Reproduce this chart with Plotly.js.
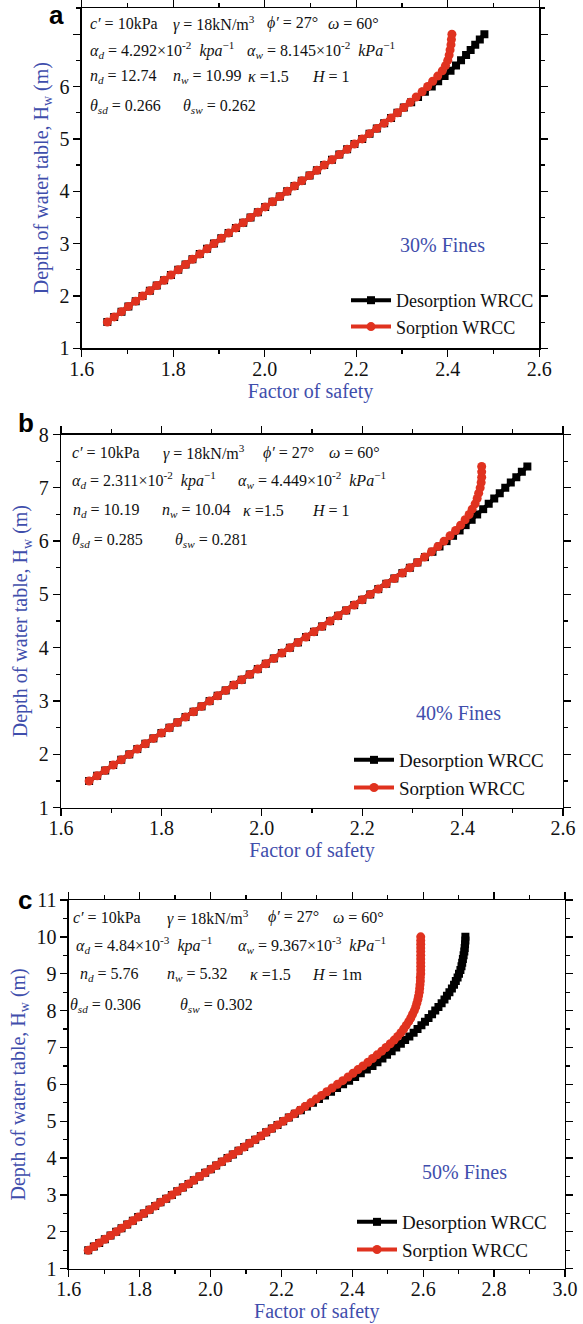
<!DOCTYPE html>
<html>
<head>
<meta charset="utf-8">
<script src="https://cdn.plot.ly/plotly-3.0.1.min.js"></script>
<style>html,body{margin:0;padding:0;background:#fff;}#chart{width:583px;height:1324px;}</style>
</head>
<body>
<div id="chart"></div>
<script>
// ---------- data ----------
// Panel a : 30% fines
const depthA = [1.5,1.6,1.7,1.8,1.9,2.0,2.1,2.2,2.3,2.4,2.5,2.6,2.7,2.8,2.9,3.0,3.1,3.2,3.3,3.4,3.5,3.6,3.7,3.8,3.9,4.0,4.1,4.2,4.3,4.4,4.5,4.6,4.7,4.8,4.9,5.0,5.1,5.2,5.3,5.4,5.5,5.6,5.7,5.8,5.9,6.0,6.1,6.2,6.3,6.4,6.5,6.6,6.7,6.8,6.9,7.0];
const fosA_common = [1.656,1.671,1.687,1.702,1.718,1.733,1.749,1.764,1.780,1.795,1.811,1.827,1.842,1.858,1.874,1.889,1.905,1.921,1.937,1.953,1.969,1.985,2.001,2.017,2.033,2.049,2.065,2.081,2.098,2.114,2.130,2.147,2.163,2.180,2.196,2.213,2.229,2.245,2.261,2.276,2.290,2.304];
const fosA_desTail = [2.320,2.335,2.350,2.365,2.379,2.393,2.406,2.418,2.429,2.440,2.450,2.460,2.470,2.480];
const fosA_sorTail = [2.318,2.331,2.344,2.356,2.367,2.378,2.388,2.395,2.400,2.403,2.405,2.407,2.408,2.409];

// Panel b : 40% fines
const depthB = [1.5,1.6,1.7,1.8,1.9,2.0,2.1,2.2,2.3,2.4,2.5,2.6,2.7,2.8,2.9,3.0,3.1,3.2,3.3,3.4,3.5,3.6,3.7,3.8,3.9,4.0,4.1,4.2,4.3,4.4,4.5,4.6,4.7,4.8,4.9,5.0,5.1,5.2,5.3,5.4,5.5,5.6,5.7,5.8,5.9,6.0,6.1,6.2,6.3,6.4,6.5,6.6,6.7,6.8,6.9,7.0,7.1,7.2,7.3,7.4];
const fosB_common = [1.656,1.672,1.688,1.704,1.720,1.736,1.752,1.768,1.784,1.800,1.816,1.832,1.848,1.864,1.880,1.896,1.912,1.928,1.944,1.960,1.976,1.992,2.008,2.024,2.040,2.056,2.072,2.088,2.104,2.120,2.136,2.152,2.168,2.184,2.200,2.216,2.232,2.248,2.264,2.280,2.295,2.310];
const fosB_desTail = [2.325,2.340,2.354,2.368,2.381,2.394,2.406,2.418,2.429,2.441,2.452,2.463,2.474,2.485,2.496,2.507,2.518,2.529];
const fosB_sorTail = [2.324,2.338,2.351,2.363,2.375,2.386,2.396,2.405,2.413,2.419,2.425,2.429,2.432,2.435,2.437,2.438,2.438,2.438];

// Panel c : 50% fines
const depthC = [1.5,1.6,1.7,1.8,1.9,2.0,2.1,2.2,2.3,2.4,2.5,2.6,2.7,2.8,2.9,3.0,3.1,3.2,3.3,3.4,3.5,3.6,3.7,3.8,3.9,4.0,4.1,4.2,4.3,4.4,4.5,4.6,4.7,4.8,4.9,5.0,5.1,5.2,5.3,5.4,5.5,5.6,5.7,5.8,5.9,6.0,6.1,6.2,6.3,6.4,6.5,6.6,6.7,6.8,6.9,7.0,7.1,7.2,7.3,7.4,7.5,7.6,7.7,7.8,7.9,8.0,8.1,8.2,8.3,8.4,8.5,8.6,8.7,8.8,8.9,9.0,9.1,9.2,9.3,9.4,9.5,9.6,9.7,9.8,9.9,10.0];
const fosC_common = [1.655,1.671,1.686,1.702,1.718,1.734,1.749,1.765,1.781,1.796,1.812,1.828,1.844,1.859,1.875,1.891,1.906,1.922,1.938,1.953,1.969,1.985,2.001,2.016,2.032,2.048,2.063,2.079,2.095,2.110,2.126,2.142,2.157,2.173,2.189,2.205];
const fosC_desTail = [2.221,2.238,2.255,2.272,2.289,2.306,2.323,2.340,2.357,2.374,2.391,2.408,2.424,2.441,2.457,2.471,2.485,2.498,2.511,2.524,2.537,2.549,2.561,2.573,2.584,2.595,2.605,2.615,2.625,2.634,2.643,2.652,2.660,2.667,2.674,2.681,2.687,2.692,2.697,2.701,2.705,2.708,2.710,2.712,2.714,2.716,2.717,2.718,2.719,2.719];
const fosC_sorTail = [2.221,2.236,2.252,2.267,2.283,2.298,2.313,2.328,2.343,2.358,2.373,2.388,2.402,2.416,2.430,2.444,2.457,2.470,2.483,2.495,2.507,2.518,2.528,2.537,2.545,2.552,2.559,2.565,2.570,2.575,2.579,2.582,2.585,2.587,2.589,2.590,2.591,2.592,2.592,2.593,2.593,2.593,2.593,2.593,2.593,2.593,2.593,2.593,2.593,2.593];

const seriesNames = ["Desorption WRCC", "Sorption WRCC"];
const finesLabels = ["30% Fines", "40% Fines", "50% Fines"];
const panelLetters = ["a", "b", "c"];
const yTickVals = [[1,2,3,4,5,6,7],[1,2,3,4,5,6,7,8],[1,2,3,4,5,6,7,8,9,10,11]];
const yTickText = [["1","2","3","4","5","6",""],["1","2","3","4","5","6","7","8"],["1","2","3","4","5","6","7","8","9","10","11"]];

// ---------- helpers ----------
const W = 583, H = 1324;
const px = v => v / W;
const py = v => 1 - v / H;
const BLUE = "rgb(63,78,172)";
const RED = "#e0321f";
const SERIF = "Liberation Serif, Times New Roman, serif";

function traces(xs, des, sor, ax, leg) {
  return [
    {x: des, y: xs, xaxis: "x" + ax, yaxis: "y" + ax, legend: leg, name: seriesNames[0],
     mode: "lines+markers", line: {color: "#000", width: 4},
     marker: {symbol: "square", size: 8, color: "#000"}},
    {x: sor, y: xs, xaxis: "x" + ax, yaxis: "y" + ax, legend: leg, name: seriesNames[1],
     mode: "lines+markers", line: {color: RED, width: 4},
     marker: {symbol: "circle", size: 9, color: RED}}
  ];
}

const data = [].concat(
  traces(depthA, fosA_common.concat(fosA_desTail), fosA_common.concat(fosA_sorTail), "", "legend"),
  traces(depthB, fosB_common.concat(fosB_desTail), fosB_common.concat(fosB_sorTail), "2", "legend2"),
  traces(depthC, fosC_common.concat(fosC_desTail), fosC_common.concat(fosC_sorTail), "3", "legend3")
);

function xAx(domPx, range, anchor) {
  return {
    domain: [px(domPx[0]), px(domPx[1])], anchor: anchor, range: range,
    tick0: 1.6, dtick: 0.2, tickformat: ".1f",
    showline: true, linecolor: "#000", linewidth: 1.3, mirror: "allticks",
    ticks: "outside", ticklen: 7, tickwidth: 1.3, tickcolor: "#000", ticklabelstandoff: -5,
    minor: {dtick: 0.1, ticklen: 4, tickwidth: 1.2, tickcolor: "#000", ticks: "outside"},
    showgrid: false, zeroline: false,
    tickfont: {family: SERIF, size: 20, color: "#111"},
    title: {text: "Factor of safety", font: {family: SERIF, size: 20, color: BLUE}, standoff: 2}
  };
}
function yAx(domPx, range, anchor, i) {
  return {
    domain: [py(domPx[1]), py(domPx[0])], anchor: anchor, range: range,
    tickmode: "array", tickvals: yTickVals[i], ticktext: yTickText[i],
    showline: true, linecolor: "#000", linewidth: 1.3, mirror: "allticks",
    ticks: "outside", ticklen: 7, tickwidth: 1.3, tickcolor: "#000",
    minor: {dtick: 0.5, tick0: 1, ticklen: 4, tickwidth: 1.2, tickcolor: "#000", ticks: "outside"},
    showgrid: false, zeroline: false,
    tickfont: {family: SERIF, size: 20, color: "#111"},
    title: {text: "Depth of water table, H<sub>w</sub> (m)", font: {family: SERIF, size: 20, color: BLUE}, standoff: 5}
  };
}
function legendAt(xPx, yPx, fs) {
  return {x: px(xPx), y: py(yPx), xanchor: "left", yanchor: "top", bgcolor: "rgba(0,0,0,0)",
          font: {family: SERIF, size: fs, color: "#111"}, tracegroupgap: 0, itemwidth: 40};
}

const annotations = [];
function note(xPx, yPx, text) {
  annotations.push({xref: "paper", yref: "paper", x: px(xPx), y: py(yPx),
    xanchor: "left", yanchor: "middle", showarrow: false, text: text, borderpad: 0,
    font: {family: SERIF, size: 16, color: "#111"}});
}

// panel letters
const letterPos = [[56,15],[26,423],[25,900]];
letterPos.forEach((p, i) => annotations.push({xref: "paper", yref: "paper", x: px(p[0]), y: py(p[1]),
  xanchor: "center", yanchor: "middle", showarrow: false, text: "<b>" + panelLetters[i] + "</b>",
  font: {family: "Liberation Sans, Arial, sans-serif", size: 26, color: "#000"}}));

// fines labels
const finesPos = [[442,245],[458,713],[464,1172]];
finesPos.forEach((p, i) => annotations.push({xref: "paper", yref: "paper", x: px(p[0]), y: py(p[1]),
  xanchor: "center", yanchor: "middle", showarrow: false, text: finesLabels[i],
  font: {family: SERIF, size: 20, color: BLUE}}));

// parameter text — panel a
note(89, 23, "<i>c′</i> = 10kPa");
note(172, 23, "<i>γ</i> = 18kN/m<sup>3</sup>");
note(266, 23, "<i>ϕ′</i> = 27°");
note(327, 23, "<i>ω</i> = 60°");
note(89, 50, "<i>α<sub>d</sub></i> = 4.292×10<sup>-2</sup>  <i>kpa</i><sup>−1</sup>");
note(246, 50, "<i>α<sub>w</sub></i> = 8.145×10<sup>-2</sup>  <i>kPa</i><sup>−1</sup>");
note(89, 77, "<i>n<sub>d</sub></i> = 12.74");
note(172, 77, "<i>n<sub>w</sub></i> = 10.99");
note(247, 77, "<i>κ</i> =1.5");
note(311, 77, "<i>H</i> = 1");
note(89, 106, "<i>θ<sub>sd</sub></i> = 0.266");
note(182, 106, "<i>θ<sub>sw</sub></i> = 0.262");
// panel b
note(71, 453, "<i>c′</i> = 10kPa");
note(162, 453, "<i>γ</i> = 18kN/m<sup>3</sup>");
note(262, 453, "<i>ϕ′</i> = 27°");
note(328, 453, "<i>ω</i> = 60°");
note(71, 480, "<i>α<sub>d</sub></i> = 2.311×10<sup>-2</sup>  <i>kpa</i><sup>−1</sup>");
note(237, 480, "<i>α<sub>w</sub></i> = 4.449×10<sup>-2</sup>  <i>kPa</i><sup>−1</sup>");
note(72, 510, "<i>n<sub>d</sub></i> = 10.19");
note(161, 510, "<i>n<sub>w</sub></i> = 10.04");
note(242, 510, "<i>κ</i> =1.5");
note(311, 510, "<i>H</i> = 1");
note(71, 540, "<i>θ<sub>sd</sub></i> = 0.285");
note(174, 540, "<i>θ<sub>sw</sub></i> = 0.281");
// panel c
note(72, 917, "<i>c′</i> = 10kPa");
note(166, 917, "<i>γ</i> = 18kN/m<sup>3</sup>");
note(267, 917, "<i>ϕ′</i> = 27°");
note(332, 917, "<i>ω</i> = 60°");
note(75, 945, "<i>α<sub>d</sub></i> = 4.84×10<sup>-3</sup>  <i>kpa</i><sup>−1</sup>");
note(237, 945, "<i>α<sub>w</sub></i> = 9.367×10<sup>-3</sup>  <i>kPa</i><sup>−1</sup>");
note(79, 975, "<i>n<sub>d</sub></i> = 5.76");
note(166, 975, "<i>n<sub>w</sub></i> = 5.32");
note(249, 975, "<i>κ</i> =1.5");
note(311, 975, "<i>H</i> = 1m");
note(69, 1006, "<i>θ<sub>sd</sub></i> = 0.306");
note(179, 1006, "<i>θ<sub>sw</sub></i> = 0.302");

const layout = {
  width: W, height: H,
  margin: {l: 0, r: 0, t: 0, b: 0},
  paper_bgcolor: "#fff", plot_bgcolor: "#fff",
  showlegend: true,
  xaxis: xAx([81.7, 539.3], [1.6, 2.6], "y"),
  yaxis: yAx([8, 348.3], [1, 7.5], "x", 0),
  xaxis2: xAx([61, 563], [1.6, 2.6], "y2"),
  yaxis2: yAx([434.5, 807.7], [1, 8], "x2", 1),
  xaxis3: xAx([68.7, 565], [1.6, 3.0], "y3"),
  yaxis3: yAx([900, 1268.7], [1, 11], "x3", 2),
  legend: legendAt(346, 282, 18),
  legend2: legendAt(349, 741, 19),
  legend3: legendAt(352, 1203, 19),
  annotations: annotations
};

Plotly.newPlot("chart", data, layout, {displayModeBar: false, staticPlot: true});
</script>
</body>
</html>
